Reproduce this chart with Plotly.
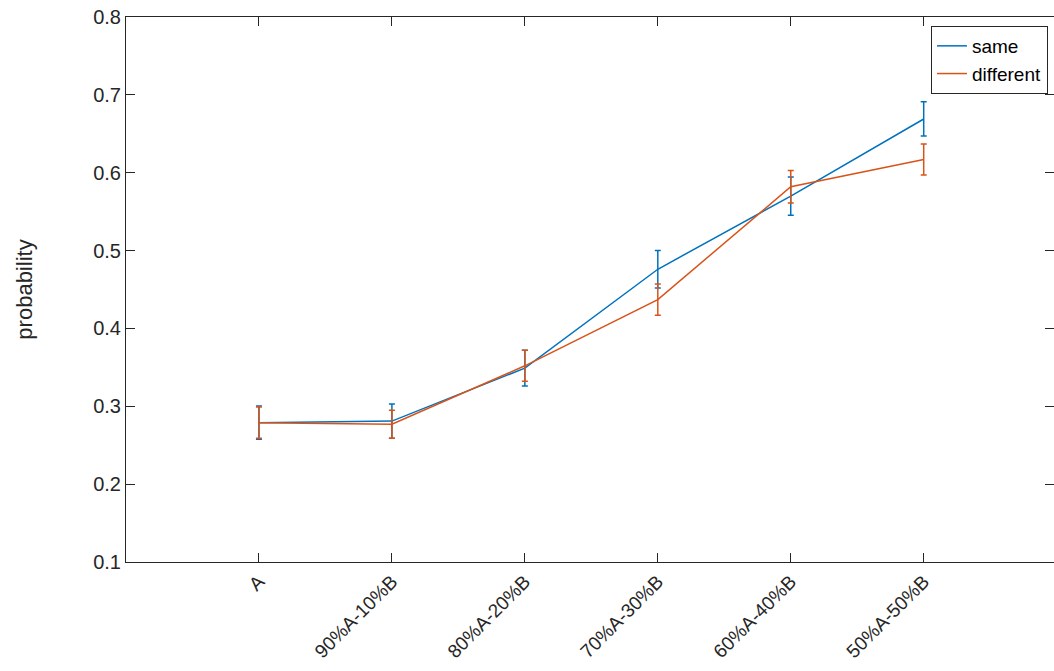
import plotly.graph_objects as go

# Mixture conditions on the x axis
categories = ["A", "90%A-10%B", "80%A-20%B", "70%A-30%B", "60%A-40%B", "50%A-50%B"]
positions = [1, 2, 3, 4, 5, 6]

# Mean probability and error (half-length of bar) per condition
same_mean = [0.279, 0.281, 0.349, 0.476, 0.570, 0.669]
same_err = [0.0215, 0.022, 0.023, 0.024, 0.0245, 0.022]
different_mean = [0.279, 0.277, 0.352, 0.437, 0.582, 0.617]
different_err = [0.020, 0.018, 0.020, 0.020, 0.021, 0.020]

y_ticks = [0.1, 0.2, 0.3, 0.4, 0.5, 0.6, 0.7, 0.8]

BLUE = "#0072BD"
ORANGE = "#D95319"
AXIS = "#262626"
FONT = "Liberation Sans, Arial, Helvetica, sans-serif"

fig = go.Figure()
fig.add_trace(go.Scatter(
    x=positions, y=same_mean, name="same", mode="lines",
    line=dict(color=BLUE, width=1.5),
    error_y=dict(type="data", array=same_err, visible=True,
                 color=BLUE, thickness=1.5, width=3),
))
fig.add_trace(go.Scatter(
    x=positions, y=different_mean, name="different", mode="lines",
    line=dict(color=ORANGE, width=1.5),
    error_y=dict(type="data", array=different_err, visible=True,
                 color=ORANGE, thickness=1.5, width=3),
))

fig.update_layout(
    width=1054, height=671,
    margin=dict(l=126, r=0, t=17, b=109),
    paper_bgcolor="white", plot_bgcolor="white",
    font=dict(family=FONT, size=19, color=AXIS),
    showlegend=True,
    legend=dict(
        x=0.9935, y=0.9835, xanchor="right", yanchor="top",
        bgcolor="white", bordercolor=AXIS, borderwidth=1,
        font=dict(family=FONT, size=19, color="black"),
        itemwidth=30, tracegroupgap=0,
    ),
    xaxis=dict(
        range=[0, 6.98], tickmode="array", tickvals=positions, ticktext=categories,
        tickangle=-45, ticks="inside", ticklen=9, tickcolor=AXIS, tickwidth=1,
        showline=True, linecolor=AXIS, linewidth=1, mirror="ticks",
        showgrid=False, zeroline=False,
        tickfont=dict(family=FONT, size=19, color=AXIS),
    ),
    yaxis=dict(
        range=[0.1, 0.8], tickmode="array", tickvals=y_ticks,
        ticktext=[f"{v:.1f}" for v in y_ticks],
        ticks="inside", ticklen=9, tickcolor=AXIS, tickwidth=1,
        showline=True, linecolor=AXIS, linewidth=1, mirror="ticks",
        showgrid=False, zeroline=False,
        tickfont=dict(family=FONT, size=20, color=AXIS),
        title=dict(text="probability", standoff=54,
                   font=dict(family=FONT, size=22, color=AXIS)),
    ),
)

fig.write_html("out.html")
